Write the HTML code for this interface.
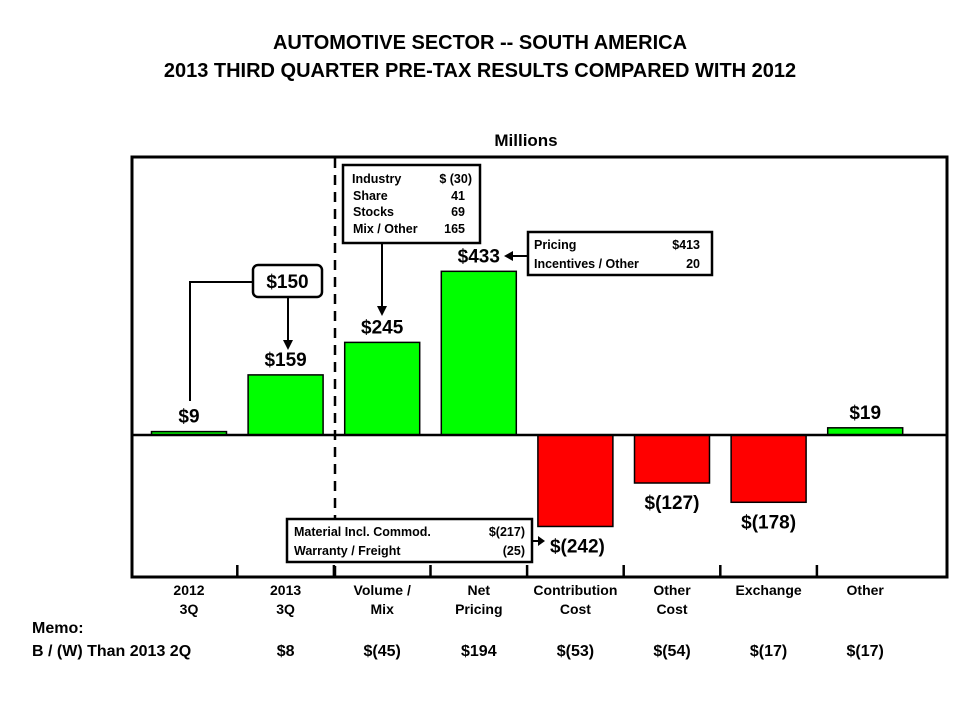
<!DOCTYPE html>
<html><head><meta charset="utf-8"><style>
body{margin:0;background:#fff;}
svg{display:block;font-family:"Liberation Sans",Arial,sans-serif;font-weight:bold;}
</style></head><body>
<svg id="c" width="960" height="720" viewBox="0 0 960 720">
<text x="480" y="49" text-anchor="middle" font-size="20">AUTOMOTIVE SECTOR -- SOUTH AMERICA</text>
<text x="480" y="77" text-anchor="middle" font-size="20">2013 THIRD QUARTER PRE-TAX RESULTS COMPARED WITH 2012</text>
<text x="526" y="146" text-anchor="middle" font-size="17">Millions</text>
<rect x="132" y="157" width="815" height="420" fill="none" stroke="#000" stroke-width="3"/>
<g id="bars"></g>
<line x1="132" y1="435" x2="947" y2="435" stroke="#000" stroke-width="2.5"/>
<line x1="335" y1="158" x2="335" y2="576" stroke="#000" stroke-width="2.5" stroke-dasharray="10,7"/>
<g id="ticks"></g>
<g id="cats"></g>
<g>
<polyline points="190,401 190,282 253,282" fill="none" stroke="#000" stroke-width="2"/>
<rect x="253" y="265" width="69" height="32" rx="5" fill="#fff" stroke="#000" stroke-width="2.5"/>
<text x="287.5" y="288" text-anchor="middle" font-size="19">$150</text>
<line x1="288" y1="297" x2="288" y2="342" stroke="#000" stroke-width="2"/>
<polygon points="283,340 293,340 288,350" fill="#000"/>
</g>
<g>
<rect x="343" y="165" width="137" height="78" fill="#fff" stroke="#000" stroke-width="2.5"/>
<g font-size="12.5">
<text x="352" y="183">Industry</text><text x="472" y="183" text-anchor="end">$ (30)</text>
<text x="353" y="200">Share</text><text x="465" y="200" text-anchor="end">41</text>
<text x="353" y="216">Stocks</text><text x="465" y="216" text-anchor="end">69</text>
<text x="353" y="233">Mix / Other</text><text x="465" y="233" text-anchor="end">165</text>
</g>
<line x1="382" y1="243" x2="382" y2="308" stroke="#000" stroke-width="2"/>
<polygon points="377,306 387,306 382,316" fill="#000"/>
</g>
<g>
<rect x="528" y="232" width="184" height="43" fill="#fff" stroke="#000" stroke-width="2.5"/>
<g font-size="12.5">
<text x="534" y="249">Pricing</text><text x="700" y="249" text-anchor="end">$413</text>
<text x="534" y="268">Incentives / Other</text><text x="700" y="268" text-anchor="end">20</text>
</g>
<line x1="528" y1="256" x2="512" y2="256" stroke="#000" stroke-width="2"/>
<polygon points="513,251 513,261 504,256" fill="#000"/>
</g>
<g>
<rect x="287" y="519" width="245" height="43" fill="#fff" stroke="#000" stroke-width="2.5"/>
<g font-size="12.5">
<text x="294" y="536">Material Incl. Commod.</text><text x="525" y="536" text-anchor="end">$(217)</text>
<text x="294" y="555">Warranty / Freight</text><text x="525" y="555" text-anchor="end">(25)</text>
</g>
<line x1="532" y1="541" x2="539" y2="541" stroke="#000" stroke-width="2"/>
<polygon points="538,536 538,546 545,541" fill="#000"/>
</g>
<text x="32" y="633" font-size="16">Memo:</text>
<text x="32" y="656" font-size="16">B / (W) Than 2013 2Q</text>
<g id="memo"></g>
</svg>
<script>
const categories=[["2012","3Q"],["2013","3Q"],["Volume /","Mix"],["Net","Pricing"],["Contribution","Cost"],["Other","Cost"],["Exchange",""],["Other",""]];
const values=[9,159,245,433,-242,-127,-178,19];
const valueLabels=["$9","$159","$245","$433","$(242)","$(127)","$(178)","$19"];
const memoValues=["$8","$(45)","$194","$(53)","$(54)","$(17)","$(17)"];
const NS="http://www.w3.org/2000/svg";
const x0=189,step=96.6,bw=75,zeroY=435,k=0.378;
const xc=i=>x0+i*step;
const y=v=>zeroY-v*k;
function mk(t,a,p){const e=document.createElementNS(NS,t);for(const n in a)e.setAttribute(n,a[n]);p.appendChild(e);return e;}
const bars=document.getElementById('bars'),cats=document.getElementById('cats'),ticks=document.getElementById('ticks'),memo=document.getElementById('memo');
values.forEach((v,i)=>{
 const top=Math.min(y(v),zeroY),h=Math.abs(y(v)-zeroY);
 const r=mk('rect',{x:xc(i)-bw/2,y:top,width:bw,height:h,fill:v>=0?'#00ff00':'#ff0000',stroke:'#000','stroke-width':1.5},bars);
 
 
 let lx=xc(i),ly=v>=0?y(v)-9:y(v)+26,anchor='middle';
 if(i===4){lx=xc(i)+2;ly=y(v)+26;}
 const t=mk('text',{x:lx,y:ly,'text-anchor':anchor,'font-size':19},bars);
 t.textContent=valueLabels[i];
 
 
 const c=categories[i];
 const t1=mk('text',{x:xc(i),y:595,'text-anchor':'middle','font-size':14},cats);t1.textContent=c[0];
 
 
 if(c[1]){const t2=mk('text',{x:xc(i),y:614,'text-anchor':'middle','font-size':14},cats);t2.textContent=c[1];
 
 }
 if(i>0){const tk=mk('line',{x1:xc(i)-step/2,y1:565,x2:xc(i)-step/2,y2:577,stroke:'#000','stroke-width':2.5},ticks);
 
 }
});
memoValues.forEach((m,j)=>{
 const t=mk('text',{x:xc(j+1),y:656,'text-anchor':'middle','font-size':16},memo);
 t.textContent=m;
 
 
});
</script>
</body></html>
